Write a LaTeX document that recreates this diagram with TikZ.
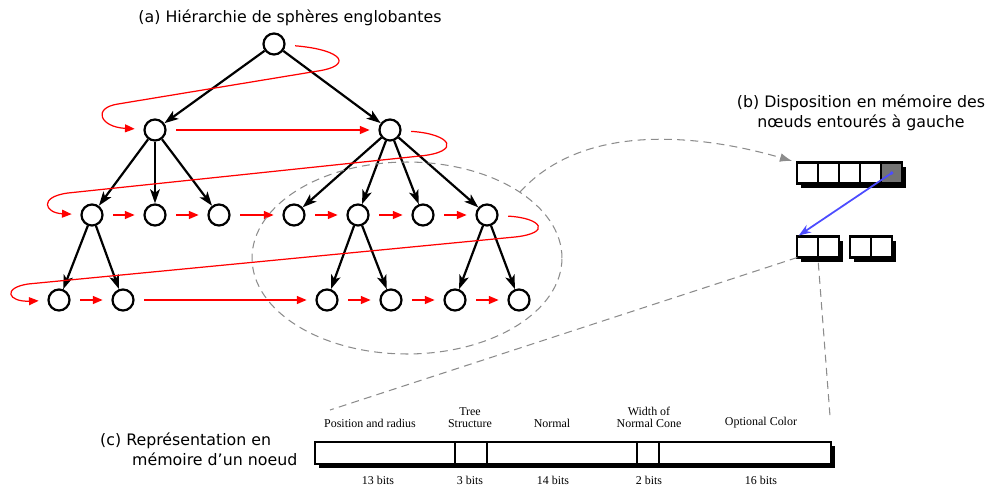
\documentclass[tikz,border=0pt]{standalone}
\usepackage{fontspec}
\newfontfamily\labelfont{DejaVu Sans}
\newfontfamily\bitsfont{Liberation Serif}
\usetikzlibrary{arrows.meta,positioning,shadows}

\begin{document}
\begin{tikzpicture}[x=0.02cm,y=-0.02cm,
    sph/.style={circle,draw,line width=1.25pt,minimum size=0.42cm,inner sep=0pt},
    tree/.style={line width=1.25pt,-{Stealth[length=8pt,width=5.5pt,inset=2pt]}},
    redarr/.style={red,line width=0.7pt,-{Triangle[length=5.5pt,width=4.5pt]},shorten <=5.5pt,shorten >=5pt},
    dashline/.style={black!45,line width=0.6pt,dash pattern=on 4.5pt off 3pt},
    cell/.style={draw,fill=white,line width=1.3pt,minimum size=0.42cm,inner sep=0pt,outer sep=0pt,
        drop shadow={shadow xshift=2.3pt,shadow yshift=-2.3pt,fill=black,opacity=1}},
    field/.style={cell,minimum height=0.44cm,anchor=west},
    txt/.style={font=\labelfont\fontsize{9}{11.5}\selectfont},
    bits/.style={font=\bitsfont\fontsize{6.8}{7.2}\selectfont,align=center}]

    \useasboundingbox (0,0) rectangle (985,487);

    \node[txt] (ta) at (290,18) {(a) Hiérarchie de sphères englobantes};
    \node[txt,align=center] (tb) at (861,113) {(b) Disposition en mémoire des\\nœuds entourés à gauche};
    \node[txt,align=left,anchor=west] (tc) at (94,449) {(c) Représentation en\\\hspace*{0.64cm}mémoire d’un noeud};

    \node[sph] (r) at (274,44) {};
    \node[sph] (a) at (155,130) {};
    \node[sph] (b) at (390,130) {};
    \node[sph] (a1) at (92,215) {};
    \node[sph] (a2) at (155,215) {};
    \node[sph] (a3) at (219,215) {};
    \node[sph] (b1) at (294,215) {};
    \node[sph] (b2) at (358,215) {};
    \node[sph] (b3) at (423,215) {};
    \node[sph] (b4) at (487,215) {};
    \node[sph] (a11) at (59,300) {};
    \node[sph] (a12) at (123,300) {};
    \node[sph] (b21) at (327,300) {};
    \node[sph] (b22) at (391,300) {};
    \node[sph] (b41) at (455,300) {};
    \node[sph] (b42) at (519,300) {};

    \draw[tree] (r) -- (a);
    \draw[tree] (r) -- (b);
    \foreach \c in {a1,a2,a3} \draw[tree] (a) -- (\c);
    \foreach \c in {b1,b2,b3,b4} \draw[tree] (b) -- (\c);
    \draw[tree] (a1) -- (a11);
    \draw[tree] (a1) -- (a12);
    \draw[tree] (b2) -- (b21);
    \draw[tree] (b2) -- (b22);
    \draw[tree] (b4) -- (b41);
    \draw[tree] (b4) -- (b42);

    \draw[redarr] (r) .. controls (345,50) and (352,66) .. (318,71) -- (118,104) .. controls (92,108) and (100,127) .. (a);
    \draw[redarr] (a) -- (b);
    \draw[redarr] (b) .. controls (452,134) and (462,152) .. (420,156) -- (68,193) .. controls (38,197) and (45,213) .. (a1);
    \foreach \p/\q in {a1/a2,a2/a3,a3/b1,b1/b2,b2/b3,b3/b4} \draw[redarr] (\p) -- (\q);
    \draw[redarr] (b4) .. controls (542,218) and (552,233) .. (515,237) -- (28,284) .. controls (2,288) and (8,302) .. (a11);
    \foreach \p/\q in {a11/a12,a12/b21,b21/b22,b22/b41,b41/b42} \draw[redarr] (\p) -- (\q);

    \draw[dashline] (407,258) ellipse [x radius=3.1cm,y radius=1.92cm];
    \coordinate (ellpt) at (520,192);

    \node[cell] (m1) at (807.8,173) {};
    \foreach \i [count=\j from 2] in {1,...,4} \node[cell,right=0pt of m\i] (m\j) {};
    \node[cell,fill=black!55] at (m5) {};

    \node[cell] (n1) at (807.8,247) {};
    \node[cell,right=0pt of n1] (n2) {};
    \node[cell,right=0.22cm of n2] (n3) {};
    \node[cell,right=0pt of n3] (n4) {};

    \draw[dashline,-{Latex[length=7pt,width=5pt]}] (ellpt) .. controls (590,115) and (720,140) .. (m1.north west) [shorten >=3pt];

    \fill[blue!70] (m5.center) circle (1.1pt);
    \draw[blue!70,line width=1pt,-{Stealth[length=7pt,width=5pt]},shorten >=1pt] (m5.center) -- (n1.north west);

    \node[field,minimum width=2.8cm] (f1) at (315,453) {};
    \node[field,minimum width=0.64cm] (f2) at (f1.east) {};
    \node[field,minimum width=3.0cm] (f3) at (f2.east) {};
    \node[field,minimum width=0.44cm] (f4) at (f3.east) {};
    \node[field,minimum width=3.44cm] (f5) at (f4.east) {};

    \coordinate (barl) at (330,410);
    \coordinate (barr) at (830,416);
    \draw[dashline] (n1.south west) -- (barl);
    \draw[dashline] ([yshift=-3pt]n1.south east) -- (barr);

    \node[bits,anchor=south] (l1) at (370,434) {Position and radius};
    \node[bits,anchor=south] (l2) at (470,434) {Tree\\Structure};
    \node[bits,anchor=south] (l3) at (552,434) {Normal};
    \node[bits,anchor=south] (l4) at (649,434) {Width of\\Normal Cone};
    \node[bits,anchor=south] (l5) at (761,434) {Optional Color};

    \node[bits] (s1) at (378,480) {13 bits};
    \node[bits] (s2) at (470,480) {3 bits};
    \node[bits] (s3) at (553,480) {14 bits};
    \node[bits] (s4) at (649,480) {2 bits};
    \node[bits] (s5) at (761,480) {16 bits};
\end{tikzpicture}
\end{document}
